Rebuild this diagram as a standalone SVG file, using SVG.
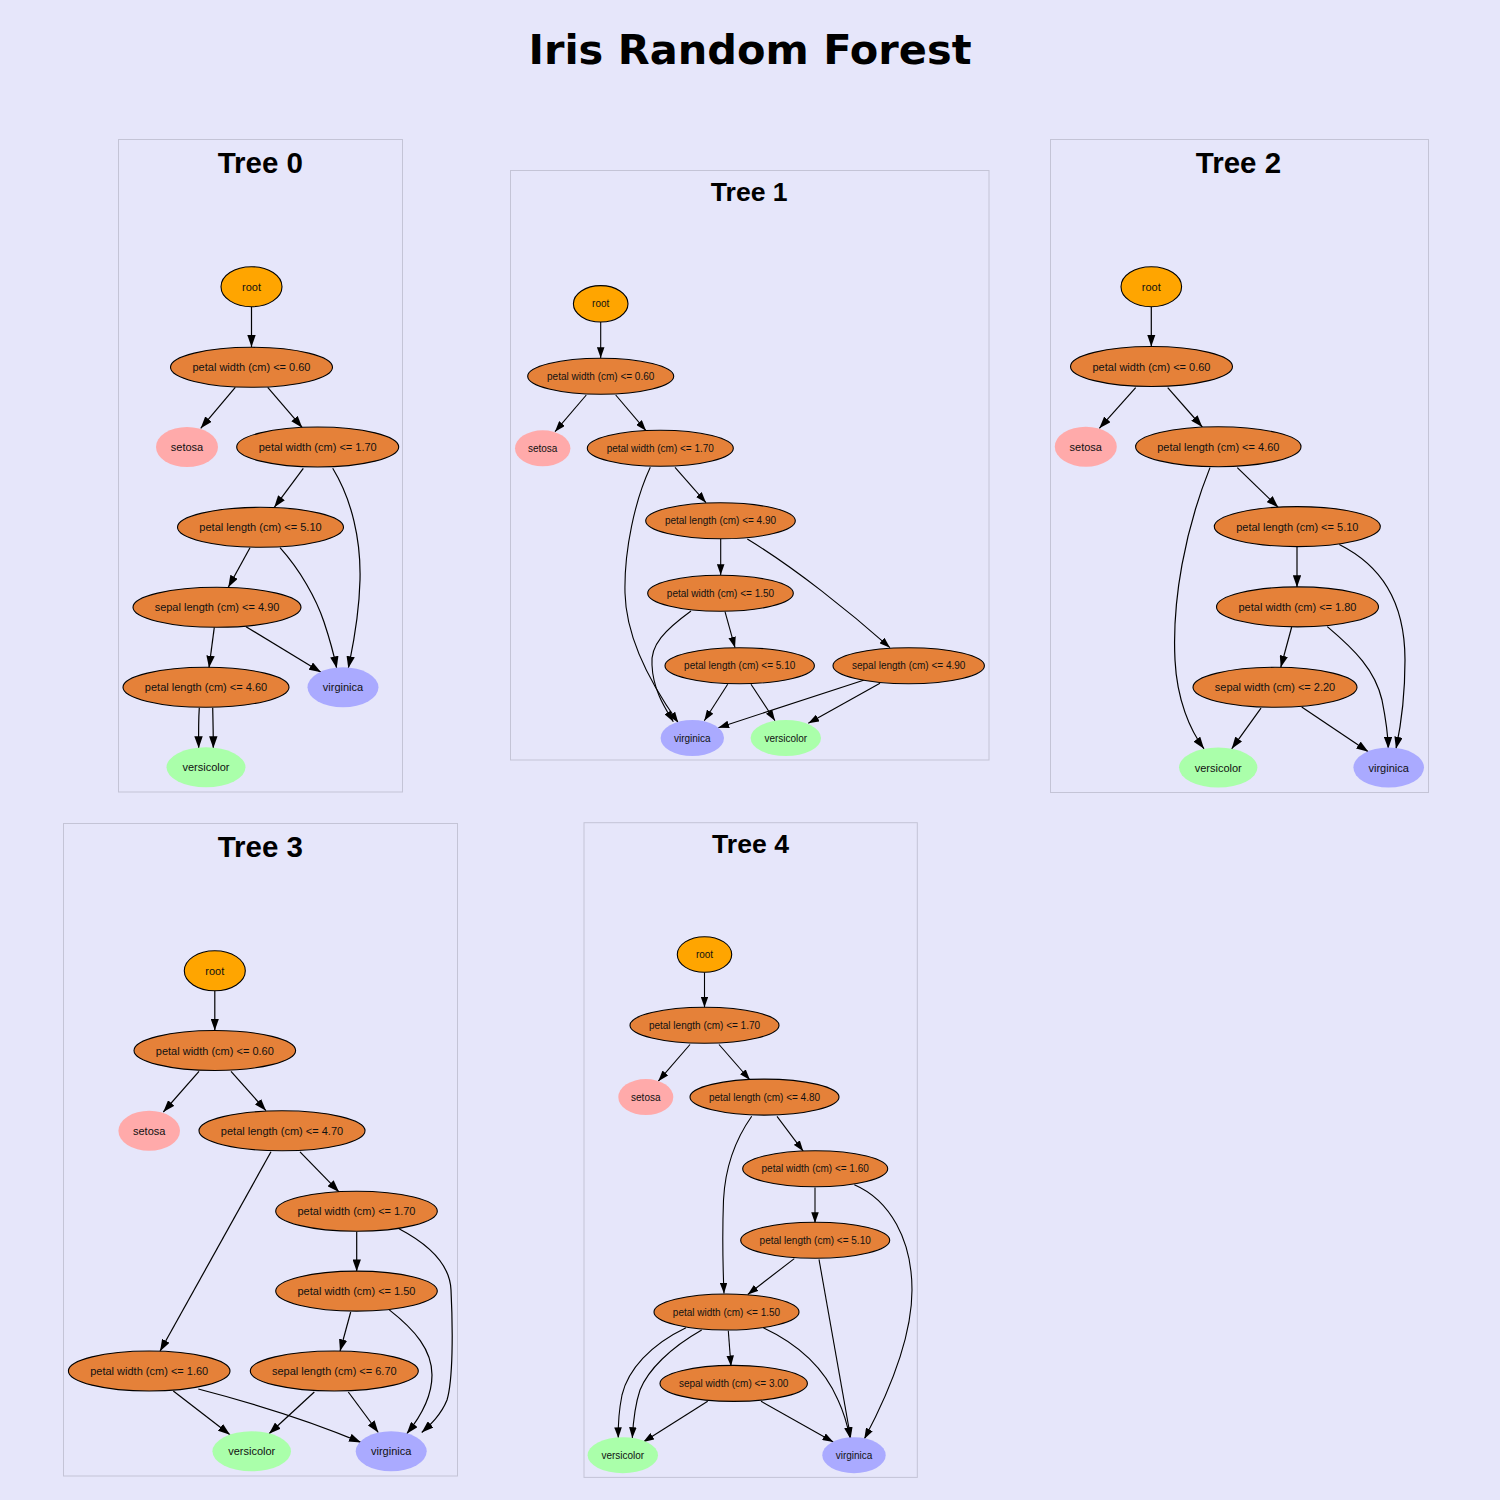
<svg xmlns="http://www.w3.org/2000/svg" width="1500" height="1500" viewBox="0 0 1500 1500">
<defs>
<marker id="ah" viewBox="0 0 10 7" refX="10" refY="3.5" markerWidth="12" markerHeight="8.4" markerUnits="userSpaceOnUse" orient="auto"><path d="M0,0 L10,3.5 L0,7 Z" fill="#000"/></marker>
<marker id="ahs" viewBox="0 0 10 7" refX="10" refY="3.5" markerWidth="10.8" markerHeight="7.6" markerUnits="userSpaceOnUse" orient="auto"><path d="M0,0 L10,3.5 L0,7 Z" fill="#000"/></marker>
<style>
.panel{fill:#E6E6FA;stroke:#C4C4D6;stroke-width:1}
.title{font-family:"DejaVu Sans",sans-serif;font-weight:bold;font-size:41.5px;text-anchor:middle;fill:#000}
.tt{font-family:"Liberation Sans",Arial,sans-serif;font-weight:bold;font-size:29.5px;text-anchor:middle;fill:#000}
.tts{font-family:"Liberation Sans",Arial,sans-serif;font-weight:bold;font-size:26.6px;text-anchor:middle;fill:#000}
.root{fill:#FFA500;stroke:#000;stroke-width:1.1}
.split{fill:#E58139;stroke:#000;stroke-width:1.1}
.setosa{fill:#FFAAAA}
.versi{fill:#AAFFAA}
.virg{fill:#AAAAFF}
.lb{font-family:"Liberation Sans",Arial,sans-serif;font-size:11px;text-anchor:middle;fill:#111}
.lbs{font-family:"Liberation Sans",Arial,sans-serif;font-size:10px;text-anchor:middle;fill:#111}
.e{fill:none;stroke:#000;stroke-width:1.2;marker-end:url(#ah)}
.es{fill:none;stroke:#000;stroke-width:1.1;marker-end:url(#ahs)}
</style>
</defs>
<rect x="0" y="0" width="1500" height="1500" fill="#E6E6FA"/>
<text class="title" x="750" y="64">Iris Random Forest</text>

<!-- Panels -->
<rect class="panel" x="118.5" y="139.5" width="284" height="652.5"/>
<rect class="panel" x="510.5" y="170.5" width="478.5" height="589.5"/>
<rect class="panel" x="1050.5" y="139.5" width="378" height="653"/>
<rect class="panel" x="63.5" y="823.5" width="394" height="652.5"/>
<rect class="panel" x="584" y="822.7" width="333.3" height="654.7"/>

<text class="tt" x="260.3" y="172.5">Tree 0</text>
<text class="tts" x="749.2" y="200.5">Tree 1</text>
<text class="tt" x="1238.5" y="172.5">Tree 2</text>
<text class="tt" x="260.3" y="856.5">Tree 3</text>
<text class="tts" x="750.5" y="852.5">Tree 4</text>

<!-- Connectors -->
<g id="connectors">
<!-- Tree 0 -->
<path class="e" d="M251.5,307 L251.5,347"/>
<path class="e" d="M235.3,387.3 L200.7,428.3"/>
<path class="e" d="M267.7,387.3 L302.3,427.7"/>
<path class="e" d="M303.3,468.3 L274.3,507.3"/>
<path class="e" d="M332.7,468.3 C352,500 361,540 360,580 C359,620 352,650 348.3,668.3"/>
<path class="e" d="M250,547.7 L228.3,587.3"/>
<path class="e" d="M280,547.7 C300,570 316,598 324,622 C330,640 334,655 336.7,668.3"/>
<path class="e" d="M214.3,627.3 L209,667.7"/>
<path class="e" d="M246,626.7 L321,672.3"/>
<path class="e" d="M199.3,707.7 C198.5,720 198.5,735 198.7,748.3"/>
<path class="e" d="M212.7,707.7 C213,720 213.3,735 213.3,748.3"/>
<!-- Tree 1 -->
<path class="es" d="M600.7,322 L600.7,358"/>
<path class="es" d="M586.3,395 L555,431.7"/>
<path class="es" d="M615.7,395 L646,430.7"/>
<path class="es" d="M650.3,467.3 C635,500 624,550 625,593 C626,640 655,690 678.3,722.7"/>
<path class="es" d="M675,467.3 L706,502.7"/>
<path class="es" d="M720.7,539 L720.7,575"/>
<path class="es" d="M747.3,539 C795,568 850,612 890,647.7"/>
<path class="es" d="M691,611 C665,630 650,645 652,665 C653,690 665,708 673.3,721.7"/>
<path class="es" d="M725,611.7 L735,647.7"/>
<path class="es" d="M727.7,684.3 L704.3,720.7"/>
<path class="es" d="M751,684.3 L775,720.7"/>
<path class="es" d="M864.3,680 L718.3,727.7"/>
<path class="es" d="M880,683.3 L808.3,723.3"/>
<!-- Tree 2 -->
<path class="e" d="M1151.3,306.7 L1151.3,346.5"/>
<path class="e" d="M1135.7,387.7 L1099.3,428.3"/>
<path class="e" d="M1167.7,387.7 L1202.3,427"/>
<path class="e" d="M1210,467.6 C1185,530 1172,600 1175,660 C1177,700 1190,730 1204,748.8"/>
<path class="e" d="M1237.3,467.6 L1278.3,507.4"/>
<path class="e" d="M1297,546.7 L1297,587.3"/>
<path class="e" d="M1339.3,544.5 C1380,565 1405,600 1405,660 C1405,700 1400,730 1396,748.8"/>
<path class="e" d="M1291.7,627 L1280.7,667.6"/>
<path class="e" d="M1327.3,626.6 C1355,650 1375,670 1382,700 C1386,720 1388,735 1388.3,748.8"/>
<path class="e" d="M1261,708.2 L1231.7,748.8"/>
<path class="e" d="M1301.7,707 L1368.3,751.8"/>
<!-- Tree 3 -->
<path class="e" d="M214.8,990.8 L214.8,1030.5"/>
<path class="e" d="M199,1071.4 L163.3,1112"/>
<path class="e" d="M231,1071.4 L266,1110.7"/>
<path class="e" d="M271,1151.8 L160,1351.3"/>
<path class="e" d="M300,1151.8 L339,1191.9"/>
<path class="e" d="M356.7,1231.7 L356.7,1271.4"/>
<path class="e" d="M399,1228.7 C430,1245 450,1265 451,1290 C453,1330 453,1380 447,1400 C441,1415 430,1425 421.7,1432.5"/>
<path class="e" d="M350.7,1312 L340,1351.3"/>
<path class="e" d="M389.3,1309.9 C415,1330 432,1350 432,1375 C432,1400 418,1420 406.7,1433.8"/>
<path class="e" d="M173.3,1391 L230,1434.7"/>
<path class="e" d="M198.3,1389 C260,1405 320,1425 361,1442.4"/>
<path class="e" d="M314.3,1392 L269,1433.8"/>
<path class="e" d="M348.3,1392 L378.3,1432.5"/>
<!-- Tree 4 -->
<path class="es" d="M704.5,972.3 L704.5,1007.4"/>
<path class="es" d="M690,1044.5 L658.3,1081.2"/>
<path class="es" d="M719,1044.5 L750,1080"/>
<path class="es" d="M751.7,1116.3 C735,1140 725,1170 723.5,1200 C722,1240 723,1270 724,1293.6"/>
<path class="es" d="M777,1116.3 L803.3,1151.3"/>
<path class="es" d="M815,1187.6 L815,1223.1"/>
<path class="es" d="M854.3,1184.7 C890,1200 912,1240 912,1290 C912,1340 885,1400 864.3,1439"/>
<path class="es" d="M794.3,1258.6 L747.7,1294.5"/>
<path class="es" d="M819,1259.4 L850.7,1438.1"/>
<path class="es" d="M686,1327.8 C650,1345 628,1370 622,1395 C619,1410 618,1425 618.3,1438.1"/>
<path class="es" d="M701.7,1330 C670,1348 648,1370 640,1390 C635,1405 633,1425 632.3,1438.1"/>
<path class="es" d="M728.3,1330.8 L731,1366.3"/>
<path class="es" d="M763.3,1327.8 C800,1345 825,1370 838,1400 C845,1415 848,1428 850,1438.1"/>
<path class="es" d="M707.7,1401.3 L643.3,1442"/>
<path class="es" d="M761,1401.3 L833.3,1442"/>
</g>

<!-- Tree 0 nodes -->
<g id="t0_root"><ellipse class="root" cx="251.5" cy="286.7" rx="30.5" ry="20"/><text class="lb" x="251.5" y="290.7">root</text></g>
<g id="t0_n1"><ellipse class="split" cx="251.5" cy="367.3" rx="81" ry="20"/><text class="lb" x="251.5" y="371.3">petal width (cm) &lt;= 0.60</text></g>
<g id="t0_setosa"><ellipse class="setosa" cx="187" cy="447" rx="31" ry="20"/><text class="lb" x="187" y="451">setosa</text></g>
<g id="t0_n2"><ellipse class="split" cx="317.7" cy="447" rx="81" ry="20"/><text class="lb" x="317.7" y="451">petal width (cm) &lt;= 1.70</text></g>
<g id="t0_n3"><ellipse class="split" cx="260.5" cy="527.3" rx="83" ry="20"/><text class="lb" x="260.5" y="531.3">petal length (cm) &lt;= 5.10</text></g>
<g id="t0_n4"><ellipse class="split" cx="217" cy="607.3" rx="84" ry="20"/><text class="lb" x="217" y="611.3">sepal length (cm) &lt;= 4.90</text></g>
<g id="t0_n5"><ellipse class="split" cx="206" cy="687.3" rx="83" ry="20"/><text class="lb" x="206" y="691.3">petal length (cm) &lt;= 4.60</text></g>
<g id="t0_virginica"><ellipse class="virg" cx="343" cy="687.3" rx="35.5" ry="20"/><text class="lb" x="343" y="691.3">virginica</text></g>
<g id="t0_versicolor"><ellipse class="versi" cx="206" cy="767.3" rx="39.5" ry="20"/><text class="lb" x="206" y="771.3">versicolor</text></g>

<!-- Tree 1 nodes -->
<g id="t1_root"><ellipse class="root" cx="600.7" cy="303.8" rx="27.3" ry="18.2"/><text class="lbs" x="600.7" y="307.4">root</text></g>
<g id="t1_n1"><ellipse class="split" cx="600.7" cy="376.3" rx="73" ry="18"/><text class="lbs" x="600.7" y="379.9">petal width (cm) &lt;= 0.60</text></g>
<g id="t1_setosa"><ellipse class="setosa" cx="542.7" cy="448.3" rx="27.7" ry="18"/><text class="lbs" x="542.7" y="451.9">setosa</text></g>
<g id="t1_n2"><ellipse class="split" cx="660.3" cy="448.3" rx="73" ry="18"/><text class="lbs" x="660.3" y="451.9">petal width (cm) &lt;= 1.70</text></g>
<g id="t1_n3"><ellipse class="split" cx="720.5" cy="520.8" rx="74.8" ry="18"/><text class="lbs" x="720.5" y="524.4">petal length (cm) &lt;= 4.90</text></g>
<g id="t1_n4"><ellipse class="split" cx="720.5" cy="593.3" rx="72.8" ry="18"/><text class="lbs" x="720.5" y="596.9">petal width (cm) &lt;= 1.50</text></g>
<g id="t1_n5"><ellipse class="split" cx="739.7" cy="665.7" rx="74.7" ry="18"/><text class="lbs" x="739.7" y="669.3">petal length (cm) &lt;= 5.10</text></g>
<g id="t1_n6"><ellipse class="split" cx="908.7" cy="665.7" rx="75.7" ry="18"/><text class="lbs" x="908.7" y="669.3">sepal length (cm) &lt;= 4.90</text></g>
<g id="t1_virginica"><ellipse class="virg" cx="692.3" cy="738" rx="31.7" ry="18"/><text class="lbs" x="692.3" y="741.6">virginica</text></g>
<g id="t1_versicolor"><ellipse class="versi" cx="785.8" cy="738" rx="35.2" ry="18"/><text class="lbs" x="785.8" y="741.6">versicolor</text></g>

<!-- Tree 2 nodes -->
<g id="t2_root"><ellipse class="root" cx="1151.3" cy="286.7" rx="30.3" ry="20"/><text class="lb" x="1151.3" y="290.7">root</text></g>
<g id="t2_n1"><ellipse class="split" cx="1151.5" cy="366.5" rx="81" ry="20"/><text class="lb" x="1151.5" y="370.5">petal width (cm) &lt;= 0.60</text></g>
<g id="t2_setosa"><ellipse class="setosa" cx="1085.8" cy="446.7" rx="31" ry="20"/><text class="lb" x="1085.8" y="450.7">setosa</text></g>
<g id="t2_n2"><ellipse class="split" cx="1218.3" cy="446.7" rx="82.7" ry="20"/><text class="lb" x="1218.3" y="450.7">petal length (cm) &lt;= 4.60</text></g>
<g id="t2_n3"><ellipse class="split" cx="1297.3" cy="526.6" rx="83" ry="20"/><text class="lb" x="1297.3" y="530.6">petal length (cm) &lt;= 5.10</text></g>
<g id="t2_n4"><ellipse class="split" cx="1297.5" cy="606.9" rx="81" ry="20"/><text class="lb" x="1297.5" y="610.9">petal width (cm) &lt;= 1.80</text></g>
<g id="t2_n5"><ellipse class="split" cx="1275" cy="687.3" rx="82" ry="20"/><text class="lb" x="1275" y="691.3">sepal width (cm) &lt;= 2.20</text></g>
<g id="t2_versicolor"><ellipse class="versi" cx="1218.2" cy="767.6" rx="39.2" ry="20"/><text class="lb" x="1218.2" y="771.6">versicolor</text></g>
<g id="t2_virginica"><ellipse class="virg" cx="1388.7" cy="767.6" rx="35.3" ry="20"/><text class="lb" x="1388.7" y="771.6">virginica</text></g>

<!-- Tree 3 nodes -->
<g id="t3_root"><ellipse class="root" cx="214.8" cy="970.8" rx="30.5" ry="20"/><text class="lb" x="214.8" y="974.8">root</text></g>
<g id="t3_n1"><ellipse class="split" cx="214.8" cy="1050.5" rx="80.8" ry="20"/><text class="lb" x="214.8" y="1054.5">petal width (cm) &lt;= 0.60</text></g>
<g id="t3_setosa"><ellipse class="setosa" cx="149.2" cy="1130.8" rx="30.8" ry="20"/><text class="lb" x="149.2" y="1134.8">setosa</text></g>
<g id="t3_n2"><ellipse class="split" cx="282" cy="1130.8" rx="83" ry="20"/><text class="lb" x="282" y="1134.8">petal length (cm) &lt;= 4.70</text></g>
<g id="t3_n3"><ellipse class="split" cx="356.5" cy="1211.2" rx="80.8" ry="20"/><text class="lb" x="356.5" y="1215.2">petal width (cm) &lt;= 1.70</text></g>
<g id="t3_n4"><ellipse class="split" cx="356.5" cy="1291.1" rx="80.8" ry="20"/><text class="lb" x="356.5" y="1295.1">petal width (cm) &lt;= 1.50</text></g>
<g id="t3_n5"><ellipse class="split" cx="149.2" cy="1371" rx="80.8" ry="20"/><text class="lb" x="149.2" y="1375">petal width (cm) &lt;= 1.60</text></g>
<g id="t3_n6"><ellipse class="split" cx="334.3" cy="1371" rx="84" ry="20"/><text class="lb" x="334.3" y="1375">sepal length (cm) &lt;= 6.70</text></g>
<g id="t3_versicolor"><ellipse class="versi" cx="251.7" cy="1451.3" rx="39.3" ry="20"/><text class="lb" x="251.7" y="1455.3">versicolor</text></g>
<g id="t3_virginica"><ellipse class="virg" cx="391.2" cy="1451.3" rx="35.5" ry="20"/><text class="lb" x="391.2" y="1455.3">virginica</text></g>

<!-- Tree 4 nodes -->
<g id="t4_root"><ellipse class="root" cx="704.5" cy="954.5" rx="27.2" ry="17.8"/><text class="lbs" x="704.5" y="958.1">root</text></g>
<g id="t4_n1"><ellipse class="split" cx="704.5" cy="1025.3" rx="74.5" ry="18"/><text class="lbs" x="704.5" y="1028.9">petal length (cm) &lt;= 1.70</text></g>
<g id="t4_setosa"><ellipse class="setosa" cx="645.8" cy="1097.1" rx="27.5" ry="18"/><text class="lbs" x="645.8" y="1100.7">setosa</text></g>
<g id="t4_n2"><ellipse class="split" cx="764.5" cy="1097.1" rx="74.5" ry="18"/><text class="lbs" x="764.5" y="1100.7">petal length (cm) &lt;= 4.80</text></g>
<g id="t4_n3"><ellipse class="split" cx="815.2" cy="1168.8" rx="72.5" ry="18"/><text class="lbs" x="815.2" y="1172.4">petal width (cm) &lt;= 1.60</text></g>
<g id="t4_n4"><ellipse class="split" cx="815.2" cy="1240.2" rx="74.5" ry="18"/><text class="lbs" x="815.2" y="1243.8">petal length (cm) &lt;= 5.10</text></g>
<g id="t4_n5"><ellipse class="split" cx="726.5" cy="1312" rx="72.5" ry="18"/><text class="lbs" x="726.5" y="1315.6">petal width (cm) &lt;= 1.50</text></g>
<g id="t4_n6"><ellipse class="split" cx="733.7" cy="1383.4" rx="73.7" ry="18"/><text class="lbs" x="733.7" y="1387">sepal width (cm) &lt;= 3.00</text></g>
<g id="t4_versicolor"><ellipse class="versi" cx="622.8" cy="1455.2" rx="35.2" ry="18"/><text class="lbs" x="622.8" y="1458.8">versicolor</text></g>
<g id="t4_virginica"><ellipse class="virg" cx="854" cy="1455.2" rx="31.7" ry="18"/><text class="lbs" x="854" y="1458.8">virginica</text></g>
</svg>
